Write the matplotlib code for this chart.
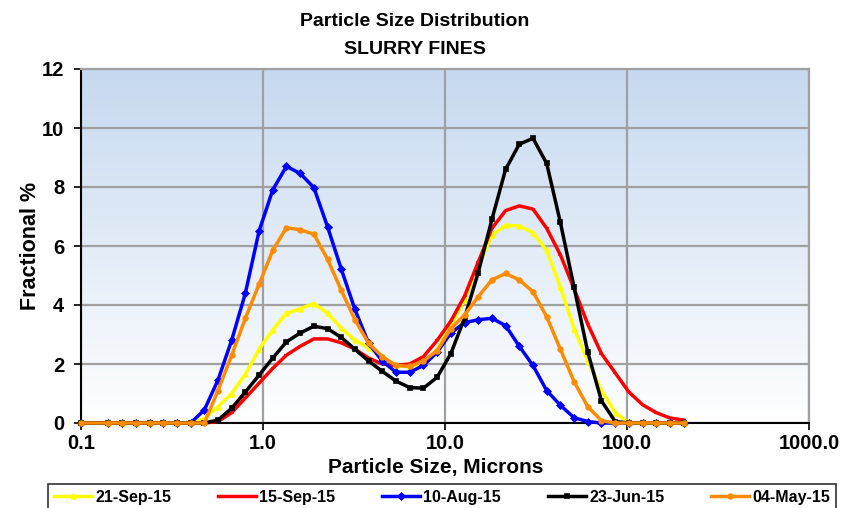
import numpy as np
import matplotlib
matplotlib.use("Agg")
import matplotlib.pyplot as plt
from matplotlib.colors import LinearSegmentedColormap

# Particle sizes (microns)
sizes = [0.100, 0.141, 0.168, 0.200, 0.238, 0.283, 0.336, 0.400, 0.476, 0.566,
         0.673, 0.800, 0.951, 1.131, 1.345, 1.600, 1.903, 2.263, 2.691, 3.200,
         3.805, 4.525, 5.382, 6.400, 7.611, 9.051, 10.76, 12.80, 15.22, 18.10,
         21.53, 25.60, 30.44, 36.20, 43.05, 51.20, 60.89, 72.41, 86.11, 102.4,
         121.8, 144.8, 172.2, 204.8]

sep21 = [0, 0, 0, 0, 0, 0, 0, 0, 0.15, 0.55,
         1.0, 1.65, 2.5, 3.15, 3.72, 3.87, 4.05, 3.72, 3.22, 2.8,
         2.55, 2.2, 1.95, 1.9, 2.05, 2.5, 3.3, 4.17, 5.3, 6.37,
         6.7, 6.68, 6.45, 5.85, 4.6, 3.2, 2.1, 1.1, 0.35, 0,
         0, 0, 0, 0]
sep15 = [0, 0, 0, 0, 0, 0, 0, 0, 0, 0.05,
         0.35, 0.85, 1.35, 1.85, 2.3, 2.6, 2.85, 2.85, 2.72, 2.5,
         2.2, 2.0, 1.95, 2.0, 2.25, 2.8, 3.45, 4.3, 5.45, 6.6,
         7.2, 7.36, 7.25, 6.6, 5.7, 4.55, 3.35, 2.35, 1.7, 1.05,
         0.62, 0.35, 0.17, 0.1]
aug10 = [0, 0, 0, 0, 0, 0, 0, 0, 0.44, 1.46,
         2.81, 4.40, 6.5, 7.9, 8.7, 8.46, 7.98, 6.65, 5.22, 3.85,
         2.7, 2.1, 1.72, 1.72, 1.95, 2.4, 3.05, 3.4, 3.5, 3.55,
         3.3, 2.6, 1.95, 1.1, 0.6, 0.18, 0.05, 0, 0, 0,
         0, 0, 0, 0]
jun23 = [0, 0, 0, 0, 0, 0, 0, 0, 0, 0.1,
         0.5, 1.05, 1.62, 2.2, 2.75, 3.05, 3.28, 3.2, 2.9, 2.5,
         2.1, 1.75, 1.42, 1.2, 1.18, 1.55, 2.35, 3.55, 5.1, 6.9,
         8.6, 9.45, 9.65, 8.8, 6.8, 4.6, 2.4, 0.75, 0.05, 0,
         0, 0, 0, 0]
may04 = [0, 0, 0, 0, 0, 0, 0, 0, 0, 1.1,
         2.3, 3.55, 4.7, 5.85, 6.62, 6.55, 6.4, 5.55, 4.5, 3.5,
         2.7, 2.25, 1.95, 1.92, 2.1, 2.45, 3.2, 3.66, 4.28, 4.85,
         5.07, 4.85, 4.45, 3.6, 2.5, 1.4, 0.55, 0.08, 0, 0,
         0, 0, 0, 0]

labels = ["21-Sep-15", "15-Sep-15", "10-Aug-15", "23-Jun-15", "04-May-15"]
colors = ["#ffff00", "#ff0000", "#0000ff", "#000000", "#ff8c00"]
markers = ["^", "_", "D", "s", "o"]
series = [sep21, sep15, aug10, jun23, may04]

xticks = [0.1, 1, 10, 100, 1000]
xticklabels = ["0.1", "1.0", "10.0", "100.0", "1000.0"]
yticks = [0, 2, 4, 6, 8, 10, 12]

plt.rcParams['font.family'] = ['Liberation Sans', 'DejaVu Sans']

W, H = 857, 508
fig = plt.figure(figsize=(W / 100, H / 100), dpi=100)
ax = fig.add_axes([81 / W, 1 - 423 / H, (809 - 81) / W, (423 - 69) / H])

# gradient background
cmap = LinearSegmentedColormap.from_list("bg", ["#ffffff", "#c6d9f0"])
grad = np.linspace(0, 1, 256).reshape(-1, 1)
ax.imshow(grad, cmap=cmap, aspect="auto", extent=[0, 1, 0, 1],
          transform=ax.transAxes, origin="lower", zorder=0)

ax.set_xscale("log")
ax.set_xlim(0.1, 1000)
ax.set_ylim(0, 12)

ax.grid(True, which="major", color="#a0a0a0", linewidth=1.6, zorder=1)
ax.set_axisbelow(True)
ax.minorticks_off()

for s, lab, c, m in zip(series, labels, colors, markers):
    ax.plot(sizes, s, color=c, linewidth=2.5, marker=m, markersize=3.4,
            markeredgewidth=1.2, label=lab, zorder=3, clip_on=False)

ax.set_xticks(xticks)
ax.set_xticklabels(xticklabels)
ax.set_yticks(yticks)
ax.tick_params(axis="both", which="major", labelsize=14.5, length=5,
               width=1.2, direction="out")
ax.tick_params(axis="y", pad=7)
ax.tick_params(axis="x", pad=3)
for t in ax.get_xticklabels() + ax.get_yticklabels():
    t.set_fontweight("bold")

for sp in ["left", "bottom"]:
    ax.spines[sp].set_color("black")
    ax.spines[sp].set_linewidth(1.5)
for sp in ["top", "right"]:
    ax.spines[sp].set_color("#a0a0a0")
    ax.spines[sp].set_linewidth(1.6)

ax.set_xlabel("Particle Size, Microns", fontsize=15, fontweight="bold")
ax.xaxis.set_label_coords((436 - 81) / 728, -(467 - 423) / 354)
ax.xaxis.label.set_va("center")
ax.set_ylabel("Fractional %", fontsize=15.5, fontweight="bold")
ax.yaxis.set_label_coords(-(81 - 31) / 728, 0.5)
ax.yaxis.label.set_va("center")

fig.text(415 / W, 1 - 22 / H, "Particle Size Distribution", ha="center",
         va="center", fontsize=14, fontweight="bold")
fig.text(415 / W, 1 - 50 / H, "SLURRY FINES", ha="center",
         va="center", fontsize=14, fontweight="bold")

leg = fig.legend(loc="upper left", bbox_to_anchor=(48 / W, 0, (836 - 48) / W, 1 - 484 / H),
                 mode="expand", ncol=5, frameon=True, fancybox=False,
                 prop={"weight": "bold", "size": 11.5}, handlelength=2.4,
                 handletextpad=0.2, borderpad=0.35, borderaxespad=0)
leg.get_frame().set_edgecolor("black")
leg.get_frame().set_linewidth(1.2)

fig.savefig("out.png", dpi=100)
